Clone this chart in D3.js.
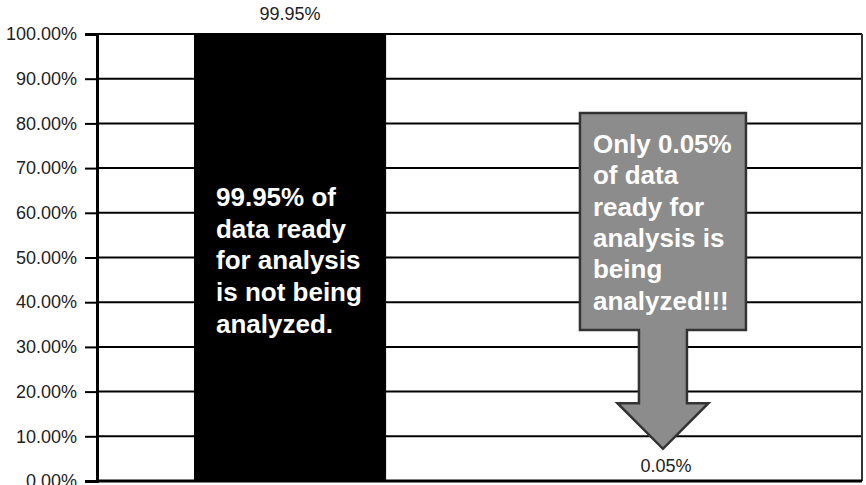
<!DOCTYPE html>
<html>
<head>
  <meta charset="utf-8">
  <script src="https://d3js.org/d3.v7.min.js"></script>
  <style>
    body { margin: 0; background: #fff; }
    text { font-family: "Liberation Sans", Arial, Helvetica, sans-serif; }
    .tick text { fill: #222; font-size: 18px; }
    .val { fill: #222; font-size: 18px; }
    .note { fill: #fff; font-size: 26px; font-weight: bold; }
  </style>
</head>
<body>
  <svg width="866" height="485"></svg>
  <script>
    // data
    const categories = ['Not analyzed', 'Analyzed'];
    const values = [99.95, 0.05];
    const yTicks = [0, 10, 20, 30, 40, 50, 60, 70, 80, 90, 100];
    const barText = ['99.95% of', 'data ready', 'for analysis', 'is not being', 'analyzed.'];
    const calloutText = ['Only 0.05%', 'of data', 'ready for', 'analysis is', 'being', 'analyzed!!!'];

    const margin = { left: 97, right: 4, top: 34, bottom: 4 };
    const svg = d3.select('svg');
    const width = +svg.attr('width');
    const height = +svg.attr('height');
    const innerWidth = width - margin.left - margin.right;
    const innerHeight = height - margin.top - margin.bottom;

    const g = svg.append('g')
      .attr('transform', `translate(${margin.left},${margin.top})`);

    const x = d3.scaleBand()
      .domain(categories)
      .range([0, innerWidth])
      .paddingInner(0.493)
      .paddingOuter(0.256);

    const y = d3.scaleLinear()
      .domain([0, 100])
      .range([innerHeight, 0]);

    // gridlines
    g.selectAll('.grid').data(yTicks.slice(1))
      .enter().append('line')
      .attr('x1', 0)
      .attr('x2', innerWidth)
      .attr('y1', d => y(d))
      .attr('y2', d => y(d))
      .attr('stroke', '#000')
      .attr('stroke-width', 2);

    // right frame
    g.append('line')
      .attr('x1', innerWidth).attr('x2', innerWidth)
      .attr('y1', 0).attr('y2', innerHeight)
      .attr('stroke', '#333')
      .attr('stroke-width', 2);
    g.append('line')
      .attr('x1', 0).attr('x2', innerWidth)
      .attr('y1', innerHeight).attr('y2', innerHeight)
      .attr('stroke', '#000')
      .attr('stroke-width', 3);

    // bars
    g.selectAll('.bar').data(values)
      .enter().append('rect')
      .attr('x', (d, i) => x(categories[i]))
      .attr('y', d => y(d))
      .attr('width', x.bandwidth())
      .attr('height', d => innerHeight - y(d))
      .attr('fill', '#000');

    // y axis
    const yAxis = d3.axisLeft(y)
      .tickValues(yTicks)
      .tickSize(12)
      .tickPadding(8)
      .tickFormat(d => d.toFixed(2) + '%');
    const yAxisG = g.append('g').call(yAxis);
    yAxisG.select('.domain').attr('stroke', '#000').attr('stroke-width', 3);
    yAxisG.selectAll('.tick line').attr('stroke', '#000').attr('stroke-width', 2);
    yAxisG.selectAll('.tick text').style('font-size', '18px').attr('fill', '#222');

    // value labels
    g.append('text')
      .attr('class', 'val')
      .attr('x', x(categories[0]) + x.bandwidth() / 2)
      .attr('y', y(values[0]) - 14)
      .attr('text-anchor', 'middle')
      .text(values[0].toFixed(2) + '%');
    g.append('text')
      .attr('class', 'val')
      .attr('x', x(categories[1]) + x.bandwidth() / 2 - 3)
      .attr('y', y(values[1]) - 9)
      .attr('text-anchor', 'middle')
      .text(values[1].toFixed(2) + '%');

    // text inside the black bar
    const t1 = g.append('text')
      .attr('class', 'note')
      .attr('x', x(categories[0]) + 22)
      .attr('y', y(61.5));
    barText.forEach((s, i) => {
      t1.append('tspan')
        .attr('x', x(categories[0]) + 22)
        .attr('dy', i === 0 ? 0 : 31.7)
        .text(s);
    });

    // callout arrow
    const cx = x(categories[1]) + x.bandwidth() / 2 - 6;
    const boxL = cx - 83, boxR = cx + 83;
    const boxT = y(82.3), boxB = y(33.8), headY = y(17.4), tipY = y(7.2);
    const stem = 24, head = 45.5;
    const arrow = d3.path();
    arrow.moveTo(boxL, boxT);
    arrow.lineTo(boxR, boxT);
    arrow.lineTo(boxR, boxB);
    arrow.lineTo(cx + stem, boxB);
    arrow.lineTo(cx + stem, headY);
    arrow.lineTo(cx + head, headY);
    arrow.lineTo(cx, tipY);
    arrow.lineTo(cx - head, headY);
    arrow.lineTo(cx - stem, headY);
    arrow.lineTo(cx - stem, boxB);
    arrow.lineTo(boxL, boxB);
    arrow.closePath();
    g.append('path')
      .attr('d', arrow.toString())
      .attr('fill', '#8c8c8c')
      .attr('stroke', '#333')
      .attr('stroke-width', 2.5)
      .attr('stroke-linejoin', 'miter');

    const t2 = g.append('text')
      .attr('class', 'note')
      .attr('x', boxL + 13)
      .attr('y', boxT + 40);
    calloutText.forEach((s, i) => {
      t2.append('tspan')
        .attr('x', boxL + 13)
        .attr('dy', i === 0 ? 0 : 31.3)
        .text(s);
    });
  </script>
</body>
</html>
